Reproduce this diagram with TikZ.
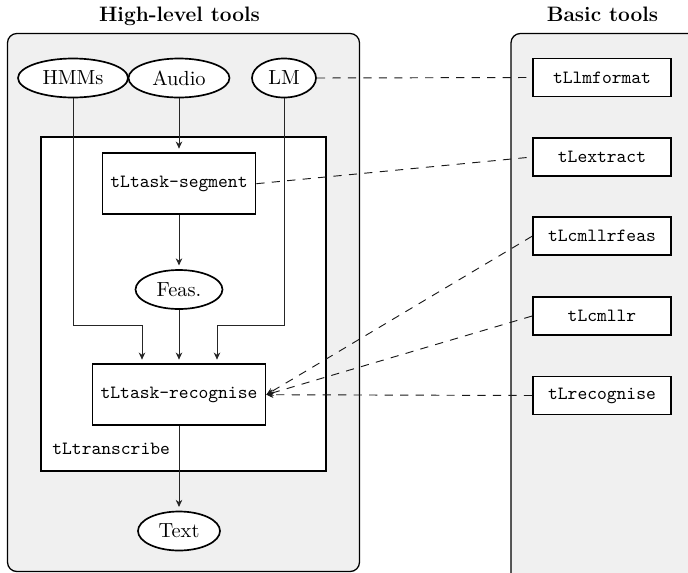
\documentclass[tikz,border=0pt]{standalone}
\usetikzlibrary{arrows.meta,shapes.geometric}
\newcommand\pxu{0.536pt}
\definecolor{panelfill}{gray}{0.94}
\tikzset{
  panel/.style={draw=black, line width=0.7pt, fill=panelfill, rounded corners=5pt},
  title/.style={font=\fontsize{11.2}{13}\selectfont\bfseries, anchor=base},
  datum/.style={draw, line width=0.9pt, ellipse, fill=white, inner sep=0pt,
    minimum height=39*\pxu, font=\fontsize{10.95}{13}\selectfont},
  tool/.style={draw, line width=0.9pt, fill=white, inner sep=0pt, font=\ttfamily},
  basic/.style={tool, minimum width=138*\pxu, minimum height=38*\pxu},
  task/.style={tool, minimum height=61*\pxu},
  flow/.style={draw=black!85, line width=0.5pt,
    -{Stealth[length=3.8pt,width=3.5pt,inset=1.2pt]}, shorten >=2pt},
  link/.style={draw=black!90, line width=0.5pt, dash pattern=on 4.4pt off 3.9pt},
  linkarr/.style={link, -{Stealth[length=3.8pt,width=3.5pt,inset=1.2pt]}}
}
\begin{document}
\begin{tikzpicture}[x=0.536pt, y=-0.536pt]
  \useasboundingbox (0,0) rectangle (688,573);
  \clip (0,0) rectangle (688,573);

  % panels and their headings
  \draw[panel] (7.5,33.5) rectangle (359.5,571.5);
  \draw[panel] (511,33.5) rectangle (720,600);
  \node[title] (hltitle) at (179.5,21) {High-level tools};
  \node[title] (bttitle) at (602.5,21) {Basic tools};

  % the transcription wrapper
  \node[draw, line width=0.9pt, fill=white, minimum width=285*\pxu, minimum height=334*\pxu,
        inner sep=0pt] (trans) at (183.5,304) {};
  \node[font=\ttfamily, anchor=base west, inner sep=0pt] (translabel) at (52,454) {tLtranscribe};

  % data
  \node[datum, minimum width=110*\pxu] (hmm)   at (73,78)   {HMMs};
  \node[datum, minimum width=101*\pxu] (audio) at (179,78)  {Audio};
  \node[datum, minimum width=64*\pxu]  (lm)    at (284,78)  {LM};
  \node[datum, minimum width=87*\pxu]  (feas)  at (179,289.5) {Feas.};
  \node[datum, minimum width=82*\pxu]  (text)  at (179,531) {Text};

  % high-level tasks
  \node[task, minimum width=153*\pxu] (seg) at (179,183.7) {tLtask-segment};
  \node[task, minimum width=173*\pxu] (rec) at (179,394.7) {tLtask-recognise};

  % basic tools
  \node[basic] (lmformat) at (602,77.5)  {tLlmformat};
  \node[basic] (extract)  at (602,157)   {tLextract};
  \node[basic] (cmfeas)   at (602,236.2) {tLcmllrfeas};
  \node[basic] (cmllr)    at (602,316)   {tLcmllr};
  \node[basic] (recog)    at (602,395.5) {tLrecognise};

  % data flow
  \coordinate (join) at (0,325);
  \draw[flow] (audio.south) -- (seg.north);
  \draw[flow] (seg.south) -- (feas.north);
  \draw[flow] (feas.south) -- (rec.north);
  \draw[flow] (hmm.south) -- (hmm.south |- join) -| ([xshift=-37*\pxu]rec.north);
  \draw[flow] (lm.south) -- (lm.south |- join) -| ([xshift=38*\pxu]rec.north);
  \draw[flow] (rec.south) -- (text.north);

  % links to the basic tools
  \draw[link] (lm.east) -- (lmformat.west);
  \draw[link] (seg.east) -- (extract.west);
  \draw[linkarr] (cmfeas.west) -- (rec.east);
  \draw[linkarr] (cmllr.west) -- (rec.east);
  \draw[linkarr] (recog.west) -- (rec.east);
\end{tikzpicture}
\end{document}
